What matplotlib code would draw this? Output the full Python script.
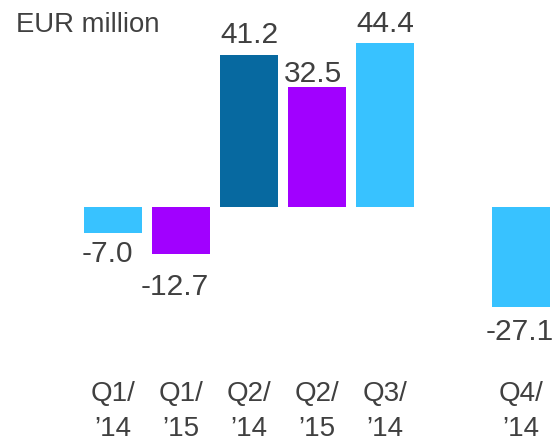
import numpy as np
import matplotlib
matplotlib.use("Agg")
import matplotlib.pyplot as plt

plt.rcParams['font.family'] = ['Liberation Sans', 'DejaVu Sans']

# ---- data ----
categories = ["Q1/\n\u201914", "Q1/\n\u201915", "Q2/\n\u201914", "Q2/\n\u201915",
              "Q3/\n\u201914", "Q3/\n\u201915", "Q4/\n\u201914"]
values = [-7.0, -12.7, 41.2, 32.5, 44.4, np.nan, -27.1]
value_labels = ["-7.0", "-12.7", "41.2", "32.5", "44.4", "", "-27.1"]
unit_label = "EUR million"

# ---- style ----
LIGHT = "#38C2FF"
PURPLE = "#A100FF"
DARK = "#0769A0"
bar_colors = [LIGHT, PURPLE, DARK, PURPLE, LIGHT, LIGHT, LIGHT]
label_dy = [-7, -19, 12, 5, 11, 0, -11]   # pixel gap between bar end and label
label_dx = [-6, -6, 0, -4, 0, 0, -1]
TXT = "#404040"

W, H, DPI = 557, 443, 100
fig = plt.figure(figsize=(W / DPI, H / DPI), dpi=DPI)
bottom_px = 360
ax = fig.add_axes([0, (H - bottom_px) / H, 1, bottom_px / H])

x = np.arange(len(categories))
vals = np.array(values, dtype=float)
ax.bar(x, np.nan_to_num(vals), width=0.84, color=bar_colors, linewidth=0)

# pixel-based mapping: center of first bar at 113px, spacing 68px
# zero line at 207px, 3.69 px per unit
sx, x0 = 68.0, 113.0
sy, y0 = 3.69, 207.0
ax.set_xlim(-x0 / sx, (W - x0) / sx)
ax.set_ylim(-(bottom_px - y0) / sy, y0 / sy)

for i, (v, lab) in enumerate(zip(vals, value_labels)):
    if np.isnan(v):
        continue
    va = "baseline" if v >= 0 else "top"
    ax.annotate(lab, xy=(i, v), xytext=(label_dx[i], label_dy[i]),
                textcoords="offset pixels", ha="center", va=va,
                fontsize=21.5, color=TXT)

ticks = [i for i, v in enumerate(vals) if not np.isnan(v)]
ax.set_xticks(ticks)
ax.set_xticklabels([categories[i] for i in ticks], fontsize=20, color=TXT,
                   linespacing=1.47)
ax.tick_params(axis="x", length=0, pad=15)
ax.set_yticks([])
for s in ax.spines.values():
    s.set_visible(False)

fig.text(16 / W, 1 - 32 / H, unit_label, fontsize=19.8, color=TXT,
         ha="left", va="baseline")

fig.savefig("out.png", dpi=DPI)
